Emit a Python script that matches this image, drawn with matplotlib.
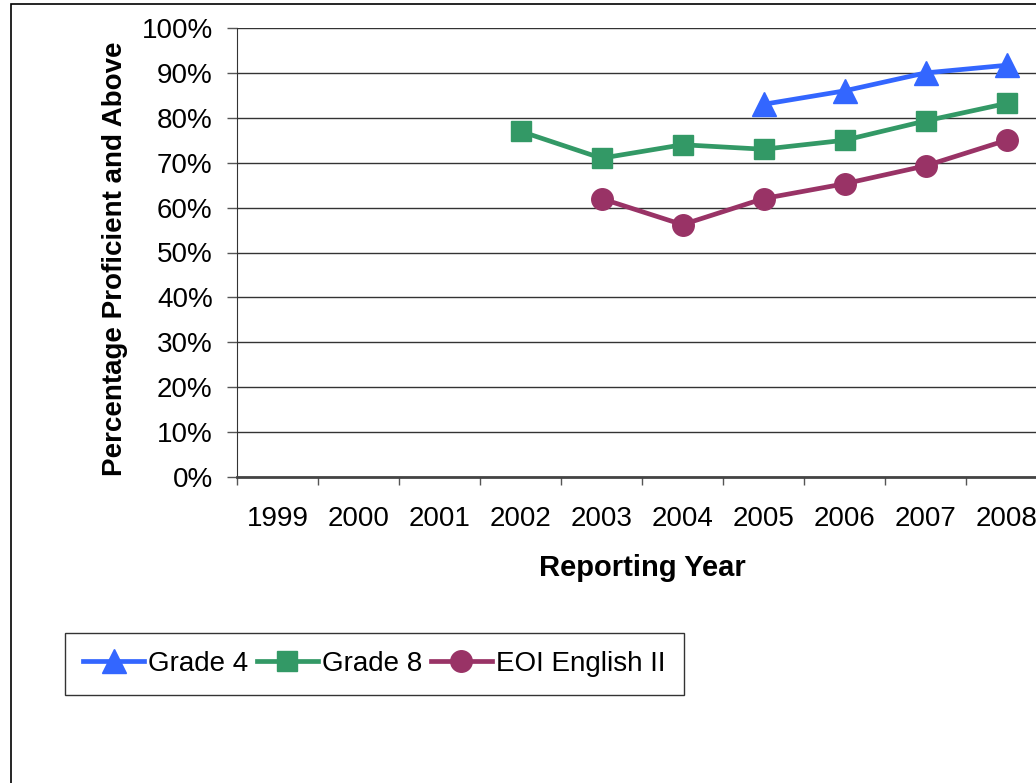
import numpy as np
import matplotlib.pyplot as plt
from matplotlib.patches import Rectangle

plt.rcParams['font.family'] = ['Liberation Sans', 'DejaVu Sans']

years = ["1999", "2000", "2001", "2002", "2003", "2004", "2005", "2006", "2007", "2008"]
grade4 = [None, None, None, None, None, None, 83, 86, 90, 91.7]
grade8 = [None, None, None, 77, 71, 74, 73, 75, 79.3, 83.2]
eoi = [None, None, None, None, 62, 56.2, 62, 65.3, 69.3, 75]

def arr(v):
    return np.array([np.nan if a is None else a for a in v], dtype=float)

x = np.arange(len(years))

fig = plt.figure(figsize=(10.36, 7.83), dpi=100)
# outer chart border
fig.patches.append(Rectangle((11/1036, -0.1), 1.1, 1 - 4/783 + 0.1, transform=fig.transFigure,
                             fill=False, edgecolor='black', linewidth=1.2))

ax = fig.add_axes([237/1036, 306/783, 810/1036, 449/783])

ax.plot(x, arr(grade4), color='#3366FF', lw=3.4, marker='^', ms=17, label='Grade 4')
ax.plot(x, arr(grade8), color='#339966', lw=3.4, marker='s', ms=15, label='Grade 8')
ax.plot(x, arr(eoi), color='#993366', lw=3.4, marker='o', ms=15.5, label='EOI English II')

ax.set_xlim(-0.5, len(years) - 0.5)
ax.set_ylim(0, 100)
ax.set_yticks(np.arange(0, 101, 10))
ax.set_yticklabels([f"{v}%" for v in range(0, 101, 10)], fontsize=20)
ax.yaxis.grid(True, color='#333333', lw=1)
ax.set_axisbelow(True)

ax.set_xticks(np.arange(-0.5, len(years), 1))
ax.set_xticklabels([])
ax.set_xticks(x, minor=True)
ax.set_xticklabels(years, minor=True, fontsize=20)
ax.tick_params(axis='x', which='minor', length=0, pad=21)
ax.tick_params(axis='x', which='major', length=6, width=1, color='#555555', direction='out')
ax.tick_params(axis='y', length=7.5, width=1, color='#555555', pad=10)

for s in ['top', 'right']:
    ax.spines[s].set_visible(False)
ax.spines['left'].set_color('#333333')
ax.spines['bottom'].set_color('#444444')
ax.spines['bottom'].set_linewidth(2)

ax.set_ylabel("Percentage Proficient and Above", fontsize=20, fontweight='bold')
ax.yaxis.set_label_coords(-0.15, 0.486)
ax.yaxis.label.set_va('center')
fig.text(642/1036, 1 - 568/783, "Reporting Year", fontsize=21, fontweight='bold',
         ha='center', va='center')

leg = fig.legend(loc='upper left', bbox_to_anchor=(65/1036, 1 - 633/783), ncol=3,
                 fontsize=20, frameon=True, fancybox=False, handlelength=2.2,
                 handletextpad=0.15, columnspacing=0.3, borderpad=0.65,
                 borderaxespad=0)
leg.get_frame().set_edgecolor('black')
leg.get_frame().set_linewidth(1)

fig.savefig('out.png', dpi=100)
